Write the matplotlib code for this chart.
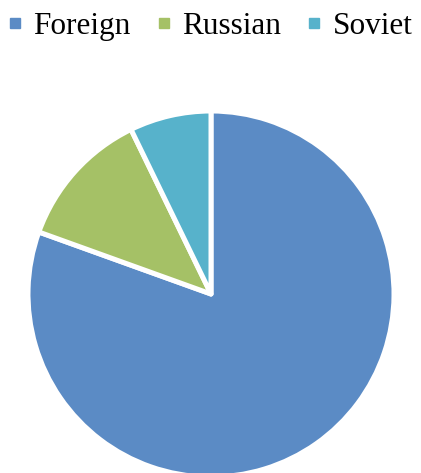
import matplotlib.pyplot as plt
from matplotlib.lines import Line2D

# ------------------------------------------------------------
# Data
# ------------------------------------------------------------
labels = ["Foreign", "Russian", "Soviet"]
shares = [80.5, 12.3, 7.2]
colors = ["#5B8BC5", "#A5C166", "#57B2CB"]

plt.rcParams["font.family"] = ["Liberation Serif", "DejaVu Serif"]

W, H = 421, 473
fig = plt.figure(figsize=(W / 100, H / 100), dpi=100)

# pie centre (211, 294) px, radius ~183 px
cx, cy, r = 211, 294, 183
ax = fig.add_axes([(cx - r) / W, (H - cy - r) / H, 2 * r / W, 2 * r / H])
ax.pie(shares, colors=colors, startangle=90, counterclock=False,
       wedgeprops=dict(edgecolor="white", linewidth=3.6, joinstyle="round"))
ax.set_xlim(-1, 1)
ax.set_ylim(-1, 1)
ax.set_aspect("equal")
ax.axis("off")

# ------------------------------------------------------------
# Legend
# ------------------------------------------------------------
handles = [Line2D([], [], marker="s", linestyle="none", markersize=7.5,
                  markerfacecolor=c, markeredgecolor=c) for c in colors]
fig.legend(handles, labels, loc="upper center", bbox_to_anchor=(0.5, 1.035),
           ncol=3, frameon=False, fontsize=22.5, handlelength=0.4,
           handletextpad=0.4, columnspacing=0.85)

fig.savefig("out.png", dpi=100)
